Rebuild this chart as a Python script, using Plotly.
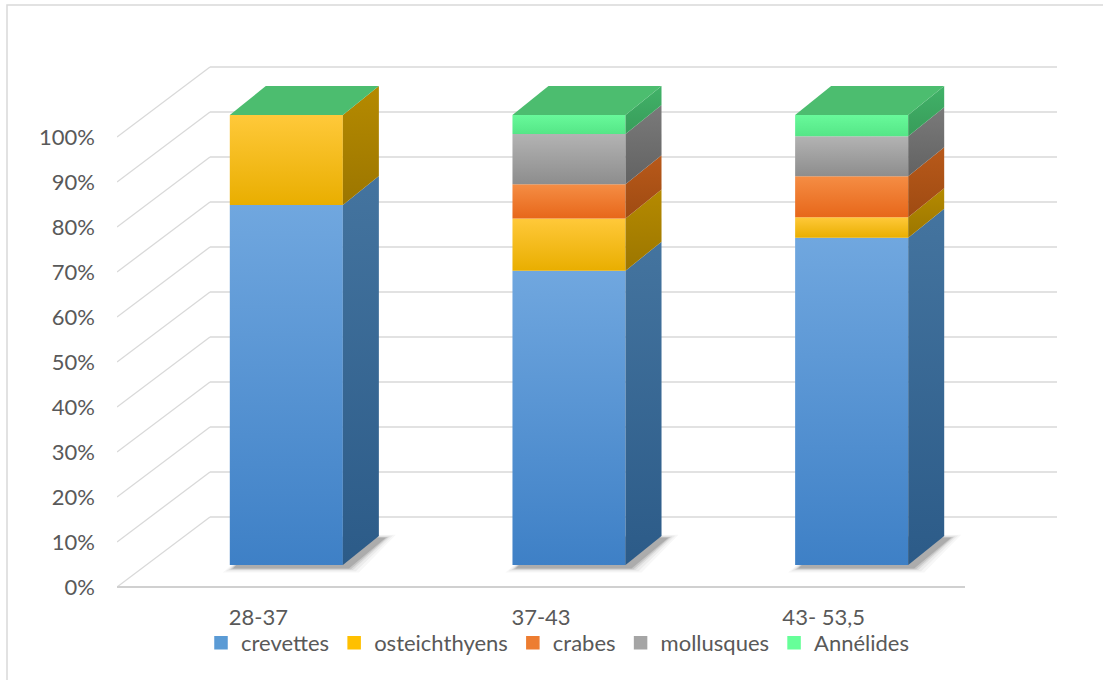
import plotly.graph_objects as go

# ---- data -------------------------------------------------------------
categories = ["28-37", "37-43", "43- 53,5"]
series_names = ["crevettes", "osteichthyens", "crabes", "mollusques", "Annélides"]
crevettes = [0.800, 0.654, 0.727]
osteichthyens = [0.200, 0.116, 0.046]
crabes = [0.000, 0.076, 0.091]
mollusques = [0.000, 0.112, 0.089]
annelides = [0.000, 0.042, 0.047]
series_values = [crevettes, osteichthyens, crabes, mollusques, annelides]

y_ticks = [0.0, 0.1, 0.2, 0.3, 0.4, 0.5, 0.6, 0.7, 0.8, 0.9, 1.0]
y_tick_labels = ["0%", "10%", "20%", "30%", "40%", "50%", "60%", "70%", "80%", "90%", "100%"]

# ---- styling ----------------------------------------------------------
legend_colors = ["#5b9bd5", "#ffc000", "#ed7d31", "#a5a5a5", "#66ff99"]
front_top = ["#70a7df", "#ffc93a", "#f58d44", "#b3b3b3", "#68f99a"]
front_bottom = ["#3e80c6", "#e9ae00", "#e7671a", "#8d8d8d", "#55e687"]
side_top = ["#44749f", "#b58a00", "#b8591a", "#7a7a7a", "#41b268"]
side_bottom = ["#2c5b88", "#9c7600", "#9f4b12", "#626262", "#389c5a"]
top_face_color = "#4cbd6f"
grid_color = "#d9d9d9"
text_color = "#595959"
font_family = "Lato, 'Open Sans', sans-serif"

W, H = 1103, 680
# plot area in pixels
PL, PR, PT, PB = 117, 1057, 40, 600
# pixel scale of the axes (one category = 282.67 px, 100% = 450 px)
CAT_PX = 848 / 3
VAL_PX = 450
X_RANGE = [-0.5, -0.5 + (PR - PL) / CAT_PX]
Y_RANGE = [-(PB - 587) / VAL_PX, (587 - PT) / VAL_PX]

BAR_WIDTH = 0.4
FLOOR_DEPTH = (93, -70)   # px offset of the back wall
BAR_FRONT = (28, -22)     # px offset of the bar front faces
BAR_BACK = (64, -51)      # px offset of the bar back faces


def shift(x, y, off):
    """Move a data point by a pixel offset (screen y grows downward)."""
    return x + off[0] / CAT_PX, y - off[1] / VAL_PX


fig = go.Figure()

# ---- gridlines: back wall, left wall diagonals, floor front edge -----
shapes = []
for v in y_ticks:
    x0, y0 = shift(X_RANGE[0], v, (0, 0))
    x1, y1 = shift(X_RANGE[0], v, FLOOR_DEPTH)
    shapes.append(dict(type="line", xref="x", yref="y", x0=x0, y0=y0, x1=x1, y1=y1,
                       line=dict(color=grid_color, width=1.3), layer="below"))
    shapes.append(dict(type="line", xref="x", yref="y", x0=x1, y0=y1, x1=X_RANGE[1], y1=y1,
                       line=dict(color=grid_color, width=1.3), layer="below"))
fx0, fy0 = shift(X_RANGE[0], 0, (0, 0))
shapes.append(dict(type="line", xref="x", yref="y", x0=fx0, y0=fy0, x1=2.5, y1=fy0,
                   line=dict(color="#d0d0d0", width=2), layer="below"))

# outer chart border (only its top and left edges fall inside the page)
shapes.append(dict(type="rect", xref="paper", yref="paper",
                   x0=(7 - PL) / (PR - PL), x1=(W + 20 - PL) / (PR - PL),
                   y0=(PB - H - 20) / (PB - PT), y1=(PB - 5) / (PB - PT),
                   line=dict(color="#d9d9d9", width=1.5), layer="below"))

# ---- soft floor shadows ----------------------------------------------
for i in range(len(categories)):
    L, R = i - BAR_WIDTH / 2, i + BAR_WIDTH / 2
    for spread, alpha in [(11, 0.035), (8, 0.05), (5, 0.08), (3, 0.12), (1, 0.16)]:
        pts = [
            shift(L, 0, (BAR_FRONT[0] + 4 - spread, BAR_FRONT[1] + 3 + spread * 0.4)),
            shift(R, 0, (BAR_FRONT[0] + 5 + spread, BAR_FRONT[1] + 3 + spread * 0.4)),
            shift(R, 0, (BAR_BACK[0] + 6 + spread, BAR_BACK[1] + 2 - spread * 0.3)),
            shift(L, 0, (BAR_BACK[0], BAR_BACK[1])),
        ]
        xs = [p[0] for p in pts] + [pts[0][0]]
        ys = [p[1] for p in pts] + [pts[0][1]]
        fig.add_trace(go.Scatter(x=xs, y=ys, mode="none", fill="toself",
                                 fillcolor=f"rgba(40,40,40,{alpha})",
                                 hoverinfo="skip", showlegend=False))

# ---- stacked 3D columns ------------------------------------------------
for i in range(len(categories)):
    L, R = i - BAR_WIDTH / 2, i + BAR_WIDTH / 2
    base = 0.0
    for s, vals in enumerate(series_values):
        h = vals[i]
        if h <= 0:
            continue
        top = base + h
        # front face
        p = [shift(L, base, BAR_FRONT), shift(R, base, BAR_FRONT),
             shift(R, top, BAR_FRONT), shift(L, top, BAR_FRONT)]
        fig.add_trace(go.Scatter(
            x=[q[0] for q in p] + [p[0][0]], y=[q[1] for q in p] + [p[0][1]],
            mode="none", fill="toself",
            fillgradient=dict(type="vertical",
                              colorscale=[[0, front_bottom[s]], [1, front_top[s]]]),
            name=series_names[s], showlegend=False,
            hovertemplate=f"{series_names[s]}<br>{categories[i]}: {h:.1%}<extra></extra>"))
        # right side face
        p = [shift(R, base, BAR_FRONT), shift(R, base, BAR_BACK),
             shift(R, top, BAR_BACK), shift(R, top, BAR_FRONT)]
        fig.add_trace(go.Scatter(
            x=[q[0] for q in p] + [p[0][0]], y=[q[1] for q in p] + [p[0][1]],
            mode="none", fill="toself",
            fillgradient=dict(type="vertical",
                              colorscale=[[0, side_bottom[s]], [1, side_top[s]]]),
            hoverinfo="skip", showlegend=False))
        base = top
    # top face of the column
    p = [shift(L, base, BAR_FRONT), shift(R, base, BAR_FRONT),
         shift(R, base, BAR_BACK), shift(L, base, BAR_BACK)]
    fig.add_trace(go.Scatter(
        x=[q[0] for q in p] + [p[0][0]], y=[q[1] for q in p] + [p[0][1]],
        mode="none", fill="toself", fillcolor=top_face_color,
        hoverinfo="skip", showlegend=False))

# ---- legend keys ------------------------------------------------------
for s, name in enumerate(series_names):
    fig.add_trace(go.Bar(x=[None], y=[None], name=name,
                         marker=dict(color=legend_colors[s],
                                     line=dict(color=legend_colors[s], width=1.5))))

fig.update_layout(
    width=W, height=H,
    margin=dict(l=PL, r=W - PR, t=PT, b=H - PB),
    paper_bgcolor="white", plot_bgcolor="white",
    font=dict(family=font_family, size=22, color=text_color),
    shapes=shapes,
    showlegend=True,
    legend=dict(orientation="h", xanchor="center", yanchor="middle",
                x=(558 - PL) / (PR - PL), y=(PB - 643) / (PB - PT),
                font=dict(size=22, color=text_color), itemclick=False,
                bgcolor="rgba(0,0,0,0)"),
    xaxis=dict(type="linear", range=X_RANGE, tickvals=[0, 1, 2], ticktext=categories,
               showgrid=False, zeroline=False, showline=False, ticks="",
               ticklabelstandoff=2, fixedrange=True),
    yaxis=dict(range=Y_RANGE, tickvals=y_ticks, ticktext=y_tick_labels,
               showgrid=False, zeroline=False, showline=False, ticks="",
               ticklabelstandoff=21, fixedrange=True),
)

fig.write_html("out.html")
